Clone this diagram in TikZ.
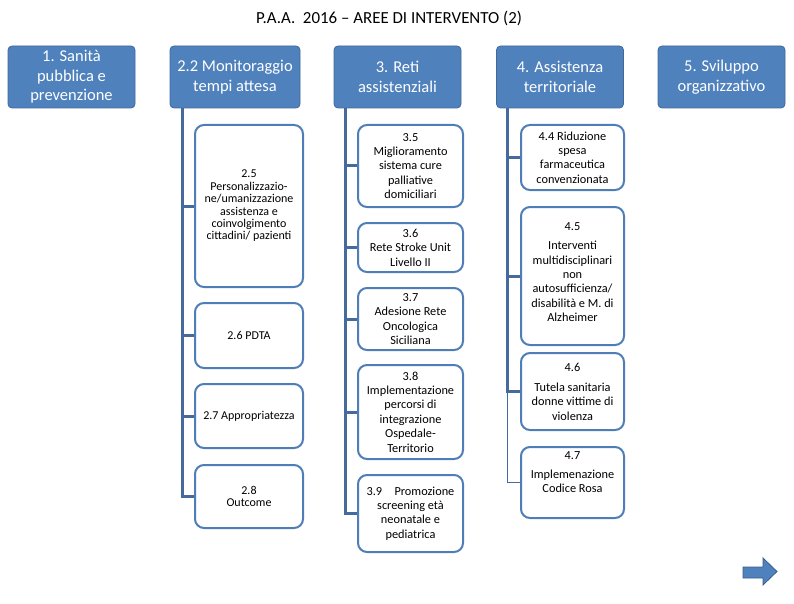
\documentclass[tikz,border=0pt]{standalone}
\usepackage{fontspec}
\setmainfont{Carlito}
\definecolor{topblue}{HTML}{4F81BD}
\definecolor{topedge}{HTML}{41699A}
\definecolor{linkblue}{HTML}{446A9E}
\definecolor{childedge}{HTML}{4F7DB8}
\definecolor{arrowedge}{HTML}{385D8A}
\tikzset{
  topbox/.style={rectangle, rounded corners=4pt, fill=topblue, draw=topedge, line width=0.8pt,
    text=white, font=\fontsize{16.5}{19.5}\selectfont, align=center, inner sep=0pt,
    minimum width=127pt, minimum height=62pt},
  childbox/.style={rectangle, rounded corners=9pt, fill=white, draw=childedge, line width=2pt,
    align=center, inner sep=0pt, font=\fontsize{12.3}{14.4}\selectfont},
  childtwo/.style={childbox, minimum width=108pt, font=\fontsize{12}{12.4}\selectfont},
  childthree/.style={childbox, minimum width=105pt},
  childfour/.style={childbox, minimum width=103pt},
  txt/.style={align=center, inner sep=0pt, font=\fontsize{12.3}{14.4}\selectfont},
  link/.style={draw=linkblue, line width=3pt},
  thinlink/.style={draw=linkblue, line width=0.8pt},
}
\begin{document}
\begin{tikzpicture}[x=1pt,y=-1pt]
\useasboundingbox (0,0) rectangle (794,604);
\node[font=\fontsize{16.9}{19}\selectfont] (title) at (389,18) {P.A.A.\ \ 2016 – AREE DI INTERVENTO (2)};

\node[topbox] (b1) at (71.5,77) {1. Sanità\\pubblica e\\prevenzione};
\node[topbox, minimum width=130pt] (b2) at (235,77) {2.2 Monitoraggio\\tempi attesa};
\node[topbox] (b3) at (397.5,77) {3. Reti\\assistenziali};
\node[topbox] (b4) at (560,77) {4. Assistenza\\territoriale};
\node[topbox] (b5) at (721.5,77) {5. Sviluppo\\organizzativo};

% column 2
\node[childtwo, minimum height=162pt] (c25) at (249,206) {2.5\\Personalizzazio-\\ne/umanizzazione\\assistenza e\\coinvolgimento\\cittadini/ pazienti};
\node[childtwo, minimum height=65pt] (c26) at (249,335.5) {2.6 PDTA};
\node[childtwo, minimum height=64pt] (c27) at (249,416) {2.7 Appropriatezza};
\node[childtwo, minimum height=63pt] (c28) at (249,496.5) {2.8\\Outcome};

% column 3
\node[childthree, minimum height=82pt] (c35) at (410.5,166) {3.5\\Miglioramento\\sistema cure\\palliative\\domiciliari};
\node[childthree, minimum height=49pt] (c36) at (410.5,247.5) {3.6\\Rete Stroke Unit\\Livello II};
\node[childthree, minimum height=62pt] (c37) at (410.5,319) {3.7\\Adesione Rete\\Oncologica\\Siciliana};
\node[childthree, minimum height=94pt] (c38) at (410.5,412) {3.8\\Implementazione\\percorsi di\\integrazione\\Ospedale-\\Territorio};
\node[childthree, minimum height=77pt] (c39) at (410.5,513.5) {3.9\quad Promozione\\screening età\\neonatale e\\pediatrica};

% column 4
\node[childfour, minimum height=65pt] (c44) at (572.5,157.5) {4.4 Riduzione\\spesa\\farmaceutica\\convenzionata};
\node[childfour, minimum height=138pt] (c45) at (572.5,276) {};
\node[txt] (t45) at (572.5,272) {4.5\\[5pt]Interventi\\multidisciplinari\\non\\autosufficienza/\\disabilità e M. di\\Alzheimer};
\node[childfour, minimum height=77pt] (c46) at (572.5,391.5) {4.6\\[6pt]Tutela sanitaria\\donne vittime di\\violenza};
\node[childfour, minimum height=71pt] (c47) at (572.5,482.5) {};
\node[txt] (t47) at (572.5,472) {4.7\\[5pt]Implemenazione\\Codice Rosa};

% connectors
\coordinate (s2) at ([xshift=13pt]b2.south west);
\coordinate (s3) at ([xshift=12pt]b3.south west);
\coordinate (s4) at ([xshift=11pt]b4.south west);

\draw[link] (s2) |- (c28.west);
\foreach \n in {c25,c26,c27} \draw[link] (s2 |- \n.west) -- (\n.west);

\draw[link] (s3) |- (c39.west);
\foreach \n in {c35,c36,c37,c38} \draw[link] (s3 |- \n.west) -- (\n.west);

\draw[link] (s4) |- (c46.west);
\foreach \n in {c44,c45} \draw[link] (s4 |- \n.west) -- (\n.west);
\draw[thinlink] (s4 |- c46.west) |- (c47.west);

% navigation arrow
\draw[fill=topblue, draw=arrowedge, line width=0.8pt]
  (743,567) -- (763,567) -- (763,558) -- (777,571.5) -- (763,585) -- (763,578) -- (743,578) -- cycle;
\end{tikzpicture}
\end{document}
